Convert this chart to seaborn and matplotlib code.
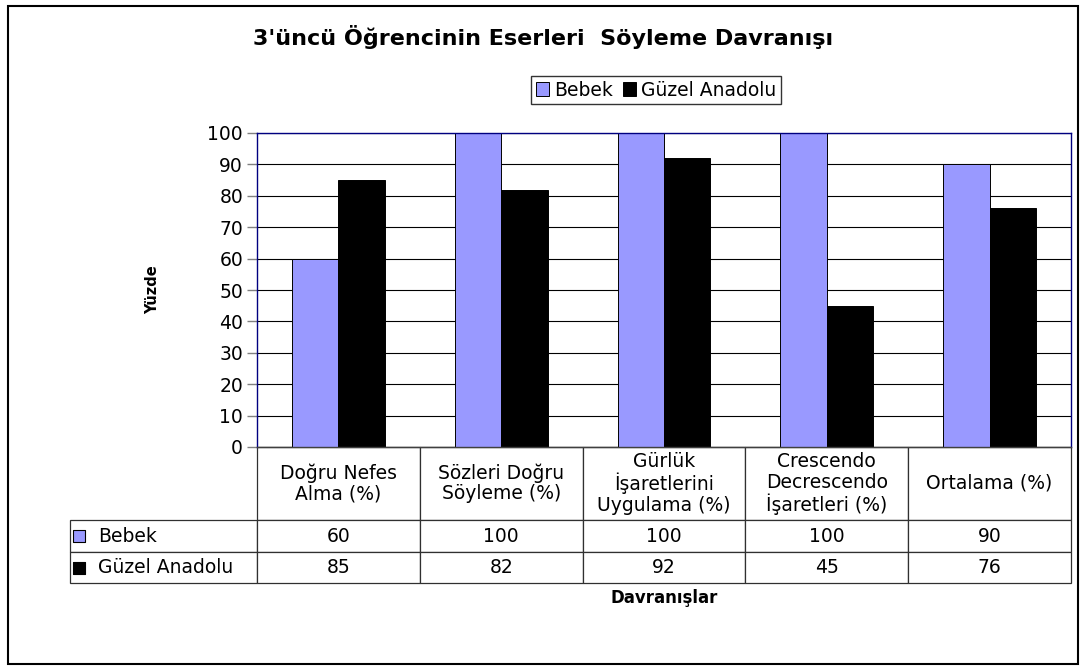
import pandas as pd
import matplotlib
matplotlib.use("Agg")
import matplotlib.pyplot as plt
from matplotlib.patches import Rectangle
import seaborn as sns

# chart data
categories = [
    "Doğru Nefes\nAlma (%)",
    "Sözleri Doğru\nSöyleme (%)",
    "Gürlük\nİşaretlerini\nUygulama (%)",
    "Crescendo\nDecrescendo\nİşaretleri (%)",
    "Ortalama (%)",
]
series_names = ["Bebek", "Güzel Anadolu"]
bebek = [60, 100, 100, 100, 90]
guzel_anadolu = [85, 82, 92, 45, 76]
series_colors = ["#9999FF", "#000000"]
yticks = list(range(0, 101, 10))

title = "3'üncü Öğrencinin Eserleri  Söyleme Davranışı"
ylabel = "Yüzde"
xlabel = "Davranışlar"

# long-form table for seaborn
df = pd.DataFrame({
    "Davranış": categories * 2,
    "Okul": [series_names[0]] * len(categories) + [series_names[1]] * len(categories),
    "Yüzde": bebek + guzel_anadolu,
})

sns.set_theme(style="white")
plt.rcParams["font.family"] = ["DejaVu Sans"]
plt.rcParams["text.color"] = "black"
plt.rcParams["axes.labelcolor"] = "black"
plt.rcParams["xtick.color"] = "black"
plt.rcParams["ytick.color"] = "black"

W, H = 1087, 668
fig = plt.figure(figsize=(W / 100, H / 100), dpi=100)
fig.patch.set_facecolor("white")

# plot area in pixels
px_l, px_r, px_t, px_b = 257, 1071, 133, 447
ax = fig.add_axes([px_l / W, 1 - px_b / H, (px_r - px_l) / W, (px_b - px_t) / H])
ax.set_facecolor("white")

sns.barplot(
    data=df, x="Davranış", y="Yüzde", hue="Okul",
    palette=series_colors, saturation=1, width=0.57, gap=0,
    edgecolor="black", linewidth=0.7, errorbar=None, ax=ax,
)

ax.set_ylim(0, 100)
ax.set_xlim(-0.5, len(categories) - 0.5)
ax.set_yticks(yticks)
ax.set_xticks([])
ax.set_xlabel("")
ax.yaxis.grid(True, color="black", linewidth=0.8)
ax.set_axisbelow(True)
ax.tick_params(axis="y", direction="out", length=7, width=1, color="#808080",
               labelcolor="black", labelsize=13.5, pad=3, left=True)
for s in ["left", "top", "right"]:
    ax.spines[s].set_color("#000080")
    ax.spines[s].set_linewidth(1.0)
ax.spines["bottom"].set_color("#404040")
ax.spines["bottom"].set_linewidth(1.0)

ax.set_ylabel(ylabel, fontsize=10.5, fontweight="bold", color="black")
ax.yaxis.set_label_coords((160 - px_l) / (px_r - px_l), 0.5)

# legend
handles, labels = ax.get_legend_handles_labels()
ax.get_legend().remove()
leg = fig.legend(handles, labels, loc="center", bbox_to_anchor=(656 / W, 1 - 90 / H),
                 ncol=2, frameon=True, fancybox=False, edgecolor="black",
                 handlelength=0.7, handleheight=0.7, handletextpad=0.3,
                 columnspacing=0.5, borderpad=0.25, fontsize=13.5)
leg.get_frame().set_linewidth(1.0)
for t in leg.get_texts():
    t.set_color("black")

# data table under the plot
tbl_left = 70
row_px = [73, 32, 31]
label_w = px_l - tbl_left
col_w = (px_r - px_l) / len(categories)
ax_w = px_r - px_l
ax_h = px_b - px_t

cell_text = [[series_names[0]] + [str(v) for v in bebek],
             [series_names[1]] + [str(v) for v in guzel_anadolu]]
col_labels = [""] + categories
col_widths = [label_w / ax_w] + [col_w / ax_w] * len(categories)

tbl = ax.table(cellText=cell_text, colLabels=col_labels, cellLoc="center",
               colWidths=col_widths,
               bbox=[(tbl_left - px_l) / ax_w, -sum(row_px) / ax_h,
                     (px_r - tbl_left) / ax_w, sum(row_px) / ax_h])
tbl.auto_set_font_size(False)
tbl.set_fontsize(13.5)
for (r, c), cell in tbl.get_celld().items():
    cell.set_height(row_px[r] / ax_h)
    cell.set_edgecolor("#303030")
    cell.set_linewidth(0.9)
    cell.get_text().set_linespacing(1.08)
    cell.get_text().set_color("black")
    if r == 0 and c == 0:
        cell.visible_edges = "open"
        cell.set_facecolor("none")
    if r > 0 and c == 0:
        cell.PAD = 0.15
        cell.get_text().set_horizontalalignment("left")
        cell._loc = "left"

# little colour keys in the row labels
key_y = [-(row_px[0] + row_px[1] / 2) / ax_h,
         -(row_px[0] + row_px[1] + row_px[2] / 2) / ax_h]
for yk, col in zip(key_y, series_colors):
    ax.scatter([(79 - px_l) / ax_w], [yk], marker="s", s=80, facecolor=col,
               edgecolor="black", linewidth=0.8, transform=ax.transAxes,
               clip_on=False, zorder=5)

# titles
fig.text(0.5, 1 - 37 / H, title, ha="center", va="center",
         fontsize=16, fontweight="bold", color="black")
fig.text(664 / W, 1 - 598 / H, xlabel, ha="center", va="center",
         fontsize=12, fontweight="bold", color="black")

# chart area border
fig.patches.append(Rectangle((8 / W, 1 - 664 / H), (1078 - 8) / W, (664 - 6) / H,
                             transform=fig.transFigure, fill=False,
                             edgecolor="black", linewidth=1.5))

fig.savefig("out.png", dpi=100, facecolor="white")
